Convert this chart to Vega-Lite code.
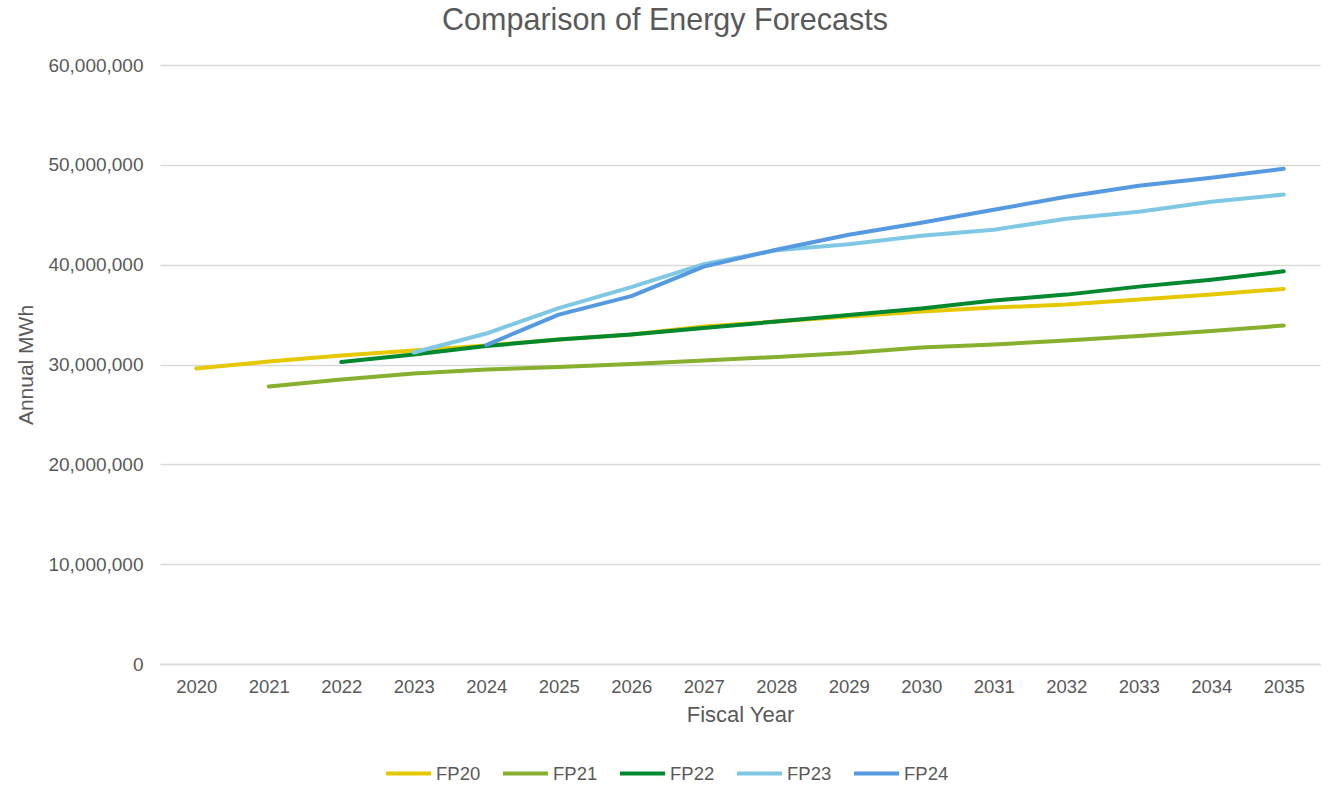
{
  "$schema": "https://vega.github.io/schema/vega-lite/v6.json",
  "autosize": {"type": "none"},
  "padding": {"left": 160, "top": 65, "right": 8, "bottom": 122},
  "width": 1160,
  "height": 599,
  "background": "white",
  "title": {"text": "Comparison of Energy Forecasts", "anchor": "middle", "dx": -75, "offset": 20, "fontSize": 30.5, "font": "Liberation Sans", "fontWeight": "normal", "color": "#595959"},
  "config": {"view": {"stroke": null}, "font": "Liberation Sans"},
  "data": {"values": [
    {"year": "2020", "series": "FP20", "value": 29600000},
    {"year": "2021", "series": "FP20", "value": 30300000},
    {"year": "2022", "series": "FP20", "value": 30900000},
    {"year": "2023", "series": "FP20", "value": 31400000},
    {"year": "2024", "series": "FP20", "value": 31900000},
    {"year": "2025", "series": "FP20", "value": 32500000},
    {"year": "2026", "series": "FP20", "value": 33000000},
    {"year": "2027", "series": "FP20", "value": 33800000},
    {"year": "2028", "series": "FP20", "value": 34300000},
    {"year": "2029", "series": "FP20", "value": 34800000},
    {"year": "2030", "series": "FP20", "value": 35300000},
    {"year": "2031", "series": "FP20", "value": 35700000},
    {"year": "2032", "series": "FP20", "value": 36000000},
    {"year": "2033", "series": "FP20", "value": 36500000},
    {"year": "2034", "series": "FP20", "value": 37000000},
    {"year": "2035", "series": "FP20", "value": 37570000},
    {"year": "2021", "series": "FP21", "value": 27800000},
    {"year": "2022", "series": "FP21", "value": 28500000},
    {"year": "2023", "series": "FP21", "value": 29100000},
    {"year": "2024", "series": "FP21", "value": 29500000},
    {"year": "2025", "series": "FP21", "value": 29750000},
    {"year": "2026", "series": "FP21", "value": 30050000},
    {"year": "2027", "series": "FP21", "value": 30400000},
    {"year": "2028", "series": "FP21", "value": 30750000},
    {"year": "2029", "series": "FP21", "value": 31150000},
    {"year": "2030", "series": "FP21", "value": 31700000},
    {"year": "2031", "series": "FP21", "value": 32000000},
    {"year": "2032", "series": "FP21", "value": 32400000},
    {"year": "2033", "series": "FP21", "value": 32850000},
    {"year": "2034", "series": "FP21", "value": 33350000},
    {"year": "2035", "series": "FP21", "value": 33900000},
    {"year": "2022", "series": "FP22", "value": 30250000},
    {"year": "2023", "series": "FP22", "value": 31000000},
    {"year": "2024", "series": "FP22", "value": 31850000},
    {"year": "2025", "series": "FP22", "value": 32500000},
    {"year": "2026", "series": "FP22", "value": 33000000},
    {"year": "2027", "series": "FP22", "value": 33650000},
    {"year": "2028", "series": "FP22", "value": 34300000},
    {"year": "2029", "series": "FP22", "value": 34950000},
    {"year": "2030", "series": "FP22", "value": 35600000},
    {"year": "2031", "series": "FP22", "value": 36400000},
    {"year": "2032", "series": "FP22", "value": 37000000},
    {"year": "2033", "series": "FP22", "value": 37800000},
    {"year": "2034", "series": "FP22", "value": 38500000},
    {"year": "2035", "series": "FP22", "value": 39330000},
    {"year": "2023", "series": "FP23", "value": 31200000},
    {"year": "2024", "series": "FP23", "value": 33100000},
    {"year": "2025", "series": "FP23", "value": 35650000},
    {"year": "2026", "series": "FP23", "value": 37750000},
    {"year": "2027", "series": "FP23", "value": 40050000},
    {"year": "2028", "series": "FP23", "value": 41450000},
    {"year": "2029", "series": "FP23", "value": 42050000},
    {"year": "2030", "series": "FP23", "value": 42900000},
    {"year": "2031", "series": "FP23", "value": 43500000},
    {"year": "2032", "series": "FP23", "value": 44600000},
    {"year": "2033", "series": "FP23", "value": 45300000},
    {"year": "2034", "series": "FP23", "value": 46300000},
    {"year": "2035", "series": "FP23", "value": 47030000},
    {"year": "2024", "series": "FP24", "value": 31950000},
    {"year": "2025", "series": "FP24", "value": 35000000},
    {"year": "2026", "series": "FP24", "value": 36850000},
    {"year": "2027", "series": "FP24", "value": 39800000},
    {"year": "2028", "series": "FP24", "value": 41500000},
    {"year": "2029", "series": "FP24", "value": 43000000},
    {"year": "2030", "series": "FP24", "value": 44200000},
    {"year": "2031", "series": "FP24", "value": 45500000},
    {"year": "2032", "series": "FP24", "value": 46800000},
    {"year": "2033", "series": "FP24", "value": 47900000},
    {"year": "2034", "series": "FP24", "value": 48700000},
    {"year": "2035", "series": "FP24", "value": 49600000}
  ]},
  "mark": {"type": "line", "strokeWidth": 4, "strokeCap": "round", "strokeJoin": "round"},
  "encoding": {
    "x": {"field": "year", "type": "ordinal", "scale": {"type": "point", "padding": 0.5},
      "axis": {"title": "Fiscal Year", "labelAngle": 0, "labelFontSize": 18.5, "labelColor": "#595959", "labelPadding": 13, "ticks": false, "domainColor": "#d9d9d9", "domainWidth": 1.3, "titleFontSize": 22, "titleFontWeight": "normal", "titleColor": "#595959", "titlePadding": 9}},
    "y": {"field": "value", "type": "quantitative", "scale": {"domain": [0, 60000000]},
      "axis": {"title": "Annual MWh", "format": ",.0f", "values": [0, 10000000, 20000000, 30000000, 40000000, 50000000, 60000000], "labelOverlap": false, "domain": false, "ticks": false, "labelFontSize": 19, "labelColor": "#595959", "labelPadding": 17, "gridColor": "#d9d9d9", "gridWidth": 1.3, "titleFontSize": 21, "titleFontWeight": "normal", "titleColor": "#595959", "titlePadding": 11}},
    "color": {"field": "series", "type": "nominal",
      "scale": {"domain": ["FP20", "FP21", "FP22", "FP23", "FP24"], "range": ["#E6C800", "#86B02D", "#00882F", "#7EC8E3", "#5599E0"]},
      "legend": {"title": null, "orient": "none", "direction": "horizontal", "legendX": 224, "legendY": 684, "symbolType": "stroke", "symbolSize": 2025, "symbolStrokeWidth": 4, "labelFontSize": 18.5, "labelColor": "#595959", "labelOffset": 3, "columnPadding": 14}}
  }
}
